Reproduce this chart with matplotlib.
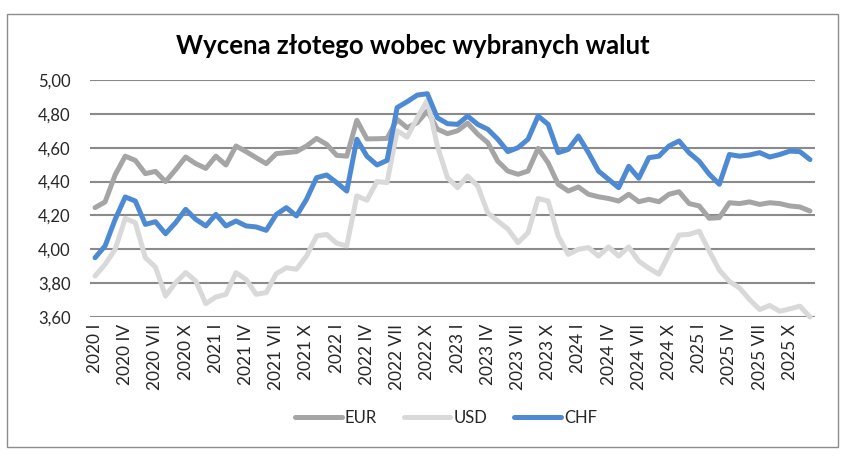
import matplotlib
matplotlib.use("Agg")
import matplotlib.pyplot as plt
from matplotlib.patches import Rectangle

# ---- data ----
roman = ["I", "II", "III", "IV", "V", "VI", "VII", "VIII", "IX", "X", "XI", "XII"]
years = [2020, 2021, 2022, 2023, 2024, 2025]
months = [f"{y} {r}" for y in years for r in roman]

EUR = [4.246, 4.28, 4.44, 4.55, 4.525, 4.447, 4.46, 4.40, 4.47, 4.545, 4.506, 4.478,
       4.55, 4.498, 4.61, 4.577, 4.541, 4.506, 4.565, 4.571, 4.577, 4.61, 4.655, 4.62,
       4.555, 4.55, 4.762, 4.652, 4.653, 4.655, 4.767, 4.718, 4.748, 4.817, 4.71, 4.683,
       4.70, 4.745, 4.68, 4.63, 4.52, 4.462, 4.443, 4.462, 4.596, 4.51, 4.384, 4.344,
       4.368, 4.325, 4.31, 4.30, 4.285, 4.325, 4.281, 4.295, 4.281, 4.325, 4.34, 4.27,
       4.256, 4.183, 4.187, 4.275, 4.27, 4.28, 4.265, 4.275, 4.27, 4.256, 4.25, 4.226]

USD = [3.842, 3.911, 4.00, 4.183, 4.157, 3.95, 3.895, 3.724, 3.803, 3.862, 3.813, 3.679,
       3.718, 3.734, 3.862, 3.822, 3.734, 3.744, 3.856, 3.891, 3.882, 3.96, 4.078, 4.088,
       4.035, 4.02, 4.315, 4.29, 4.40, 4.394, 4.70, 4.663, 4.777, 4.88, 4.61, 4.423,
       4.364, 4.433, 4.374, 4.216, 4.167, 4.12, 4.039, 4.098, 4.30, 4.285, 4.078, 3.97,
       4.00, 4.01, 3.96, 4.014, 3.96, 4.014, 3.93, 3.888, 3.853, 3.97, 4.084, 4.088,
       4.107, 3.989, 3.877, 3.81, 3.772, 3.703, 3.644, 3.668, 3.634, 3.648, 3.664, 3.60]

CHF = [3.95, 4.02, 4.177, 4.309, 4.285, 4.147, 4.163, 4.092, 4.157, 4.236, 4.177, 4.138,
       4.206, 4.138, 4.167, 4.138, 4.132, 4.112, 4.206, 4.246, 4.197, 4.295, 4.423, 4.439,
       4.394, 4.344, 4.65, 4.55, 4.498, 4.525, 4.837, 4.872, 4.911, 4.919, 4.777, 4.742,
       4.738, 4.787, 4.738, 4.709, 4.65, 4.577, 4.60, 4.65, 4.787, 4.738, 4.571, 4.59,
       4.669, 4.571, 4.462, 4.413, 4.364, 4.49, 4.42, 4.541, 4.55, 4.61, 4.64, 4.57,
       4.52, 4.443, 4.384, 4.56, 4.55, 4.557, 4.571, 4.545, 4.56, 4.58, 4.577, 4.53]

yticks = [3.60, 3.80, 4.00, 4.20, 4.40, 4.60, 4.80, 5.00]
title = "Wycena złotego wobec wybranych walut"

plt.rcParams['font.family'] = ['Lato', 'DejaVu Sans']

W, H = 847, 457
fig = plt.figure(figsize=(W / 100, H / 100), dpi=100)
fig.patch.set_facecolor("white")

# outer border
fig.patches.append(Rectangle((7 / W, 1 - 447 / H), (838 - 7) / W, (447 - 14) / H,
                             transform=fig.transFigure, fill=False,
                             edgecolor="#8c8c8c", linewidth=1.0))

ax = fig.add_axes([90 / W, 1 - 317 / H, (815 - 90) / W, (317 - 80) / H])
x = list(range(len(months)))

series = [("EUR", EUR, "#a5a5a5"), ("USD", USD, "#d9d9d9"), ("CHF", CHF, "#4e8ad4")]
for z, (name, vals, col) in enumerate(series):
    ax.plot(x, vals, color=col, linewidth=3.6, label=name, zorder=3 + z,
            solid_joinstyle="round", solid_capstyle="round", clip_on=False)

ax.set_xlim(-0.5, len(months) - 0.5)
ax.set_ylim(3.60, 5.00)
ax.set_yticks(yticks)
ax.set_yticklabels([f"{v:.2f}".replace(".", ",") for v in yticks],
                   fontsize=12, color="#262626")
ax.yaxis.grid(True, color="#8a8a8a", linewidth=1.5, zorder=1)
ax.set_axisbelow(True)
ax.tick_params(axis="y", length=0, pad=14)

tick_idx = list(range(0, len(months), 3))
ax.set_xticks(tick_idx)
ax.set_xticklabels([months[i] for i in tick_idx], rotation=90, fontsize=12.5,
                   color="#262626", va="top", ha="center")
ax.tick_params(axis="x", length=0, pad=5)

for s in ax.spines.values():
    s.set_visible(False)

fig.text(413 / W, 1 - 46 / H, title, ha="center", va="center",
         fontsize=18.5, fontweight="bold", color="black")

leg = fig.legend(loc="center", bbox_to_anchor=(446 / W, 1 - 418 / H), ncol=3,
                 frameon=False, fontsize=12, handlelength=2.8, columnspacing=1.6,
                 handletextpad=0.2)
for t in leg.get_texts():
    t.set_color("#262626")

fig.savefig("out.png", dpi=100, facecolor="white")
